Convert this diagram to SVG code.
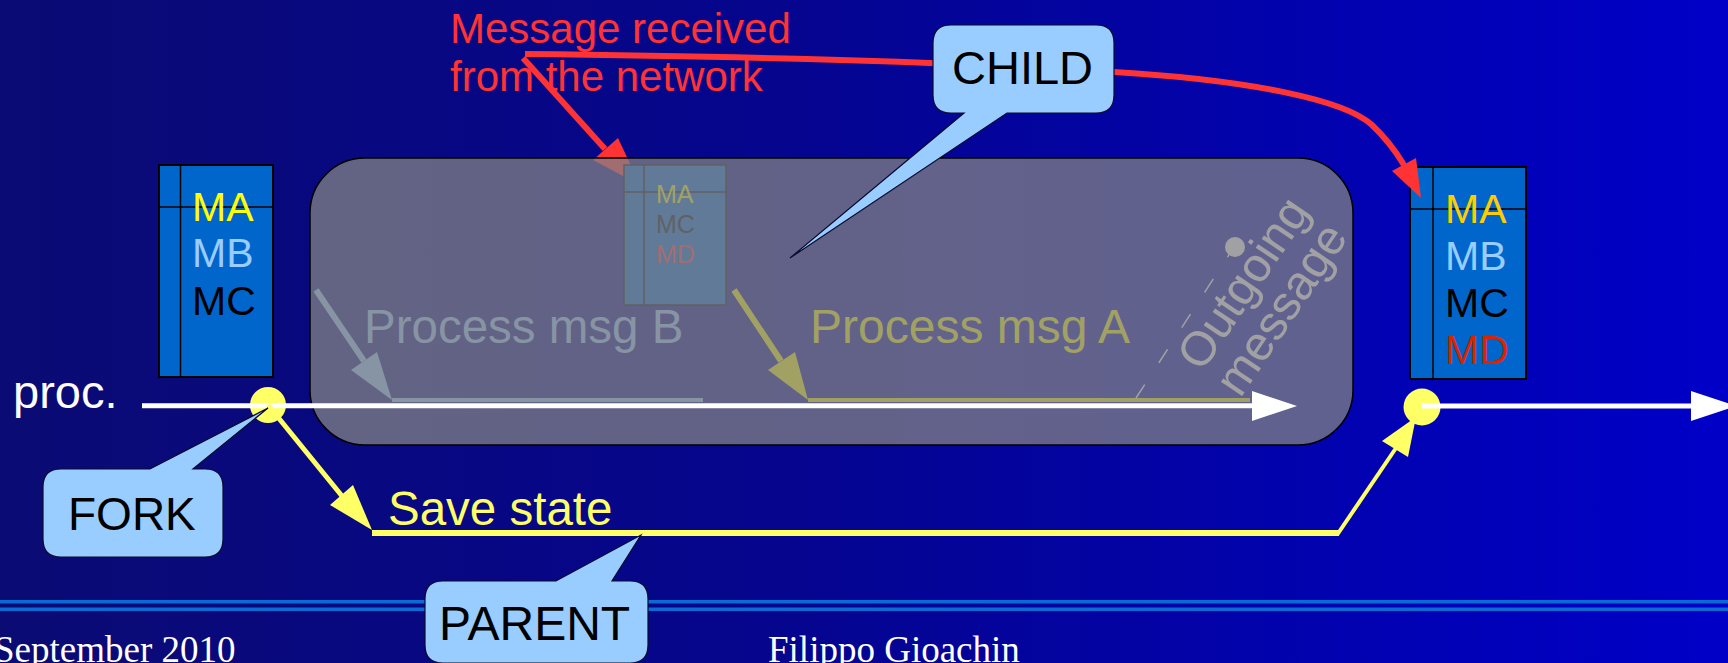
<svg xmlns="http://www.w3.org/2000/svg" width="1728" height="663" viewBox="0 0 1728 663">
<defs>
<linearGradient id="bg" x1="0" y1="0" x2="1" y2="0">
<stop offset="0" stop-color="#0b0b74"/>
<stop offset="0.45" stop-color="#05058e"/>
<stop offset="1" stop-color="#0000c8"/>
</linearGradient>
<style>
.sans{font-family:"Liberation Sans",Arial,sans-serif}
.serif{font-family:"Liberation Serif","Times New Roman",serif}
.box{fill:#0066cc;stroke:#000;stroke-width:2}
.div{stroke:#000;stroke-width:1.5}
.call{fill:#99ccff;stroke:#0a0a30;stroke-width:1.2}
.red{stroke:#ff3333;stroke-width:6;fill:none}
.yel{stroke:#ffff66;fill:none}
.wht{stroke:#ffffff;stroke-width:5}
</style>
</defs>
<rect x="0" y="0" width="1728" height="663" fill="url(#bg)"/>
<g id="footer">
<rect x="0" y="600" width="1728" height="3.5" fill="#0a6ad6"/>
<rect x="0" y="607.5" width="1728" height="3.5" fill="#0a6ad6"/>
<text class="serif" x="-6" y="662" font-size="37" fill="#ffffff">September 2010</text>
<text class="serif" x="768" y="662" font-size="37" fill="#ffffff">Filippo Gioachin</text>
</g>
<g id="connectors-under">
<path class="red" d="M523,58 L605,149"/>
<polygon points="593,160 618,138 640,185" fill="#ff3333"/>
</g>
<g id="state-left">
<rect class="box" x="159" y="165" width="114" height="212"/>
<line class="div" x1="180.5" y1="165" x2="180.5" y2="377"/>
<line class="div" x1="159" y1="207" x2="273" y2="207"/>
<text class="sans" font-size="41" x="192" y="221" fill="#ffff00">MA</text>
<text class="sans" font-size="41" x="192" y="267" fill="#99ccff">MB</text>
<text class="sans" font-size="41" x="192" y="315" fill="#000000">MC</text>
</g>
<g id="state-right">
<rect class="box" x="1410" y="167" width="116" height="212"/>
<line class="div" x1="1433" y1="167" x2="1433" y2="379"/>
<line class="div" x1="1410" y1="209" x2="1526" y2="209"/>
<text class="sans" font-size="41" x="1445" y="223" fill="#ffcc00">MA</text>
<text class="sans" font-size="41" x="1445" y="270" fill="#99ccff">MB</text>
<text class="sans" font-size="41" x="1445" y="317" fill="#000000">MC</text>
<text class="sans" font-size="41" x="1445" y="364" fill="#dd2200">MD</text>
</g>
<g id="state-mini">
<rect x="624" y="165" width="102" height="140" fill="#0066cc" stroke="#000" stroke-width="1.5"/>
<line class="div" x1="644" y1="165" x2="644" y2="305"/>
<line class="div" x1="624" y1="192" x2="726" y2="192"/>
<text class="sans" font-size="25" x="656" y="203" fill="#ffff00">MA</text>
<text class="sans" font-size="25" x="656" y="233" fill="#000000">MC</text>
<text class="sans" font-size="25" x="656" y="263" fill="#ff3333">MD</text>
</g>
<g id="process-b">
<line x1="316" y1="290" x2="364" y2="361" stroke="#99ccff" stroke-width="6"/>
<polygon points="351,370 377,352 392,400" fill="#99ccff"/>
<line x1="392" y1="400" x2="703" y2="400" stroke="#99ccff" stroke-width="4"/>
<text class="sans" font-size="47.5" x="364" y="343" fill="#99ccff">Process msg B</text>
</g>
<g id="process-a">
<line x1="734" y1="290" x2="781" y2="361" stroke="#ffff00" stroke-width="6"/>
<polygon points="768,370 795,352 808,400" fill="#ffff00"/>
<line x1="808" y1="400" x2="1250" y2="400" stroke="#ffff00" stroke-width="4"/>
<text class="sans" font-size="48" x="810" y="343" fill="#ffff00">Process msg A</text>
</g>
<g id="outgoing">
<line x1="1136" y1="398" x2="1234" y2="247" stroke="#ffffff" stroke-width="1.5" stroke-dasharray="16 26"/>
<circle cx="1235" cy="247" r="10" fill="#ffffff"/>
<text class="sans" font-size="48" fill="#ffffff" transform="translate(1202,373) rotate(-56)"><tspan x="0" y="0">Outgoing</tspan><tspan x="0" y="46">message</tspan></text>
</g>
<g id="child-area">
<rect x="310" y="158" width="1043" height="287" rx="55" fill="rgb(129,129,133)" fill-opacity="0.75"/>
<rect x="310" y="158" width="1043" height="287" rx="55" fill="none" stroke="#000" stroke-width="1.5"/>
</g>
<g id="connectors">
<path class="red" d="M525,54 Q900,58 1114,72 C1250,80 1345,100 1372,125 C1390,142 1398,155 1404,165"/>
<polygon points="1392,171 1416,158 1421,198" fill="#ff3333"/>
<circle cx="268" cy="405" r="18" fill="#ffff66"/>
<circle cx="1422" cy="407" r="18.5" fill="#ffff66"/>
<line class="wht" x1="142" y1="405.7" x2="1252" y2="405.7"/>
<polygon points="1252,391 1297,406 1252,421" fill="#ffffff"/>
<line class="wht" x1="1422" y1="406" x2="1691" y2="406"/>
<polygon points="1691,391 1736,406 1691,421" fill="#ffffff"/>
<line class="yel" x1="268" y1="405" x2="342" y2="496" stroke-width="5"/>
<polygon points="330,505 353,485 372,530" fill="#ffff66"/>
<line class="yel" x1="372" y1="533" x2="1339" y2="533" stroke-width="6"/>
<line class="yel" x1="1337" y1="535" x2="1396" y2="448" stroke-width="4"/>
<polygon points="1382,441 1408,457 1416,417" fill="#ffff66"/>
</g>
<g id="proc-label">
<text class="sans" font-size="47" x="13" y="408" fill="#ffffff">proc.</text>
</g>
<g id="save-state">
<text class="sans" font-size="47.5" x="388" y="525" fill="#ffff66">Save state</text>
</g>
<g id="message-label">
<text class="sans" font-size="42" fill="#ff3333"><tspan x="450" y="43">Message received</tspan><tspan x="450" y="91">from the network</tspan></text>
</g>
<g id="fork">
<path class="call" d="M61,469 H150 L268,408 L193,469 H205 Q223,469 223,487 V539 Q223,557 205,557 H61 Q43,557 43,539 V487 Q43,469 61,469 Z"/>
<text class="sans" font-size="46" x="68" y="530" fill="#000">FORK</text>
</g>
<g id="child">
<path class="call" d="M951,25 H1096 Q1114,25 1114,43 V95 Q1114,113 1096,113 H1007 L790,258 L964,113 H951 Q933,113 933,95 V43 Q933,25 951,25 Z"/>
<text class="sans" font-size="47" x="952" y="84" fill="#000">CHILD</text>
</g>
<g id="parent">
<path class="call" d="M443,581 H556 L641,535 L612,581 H630 Q648,581 648,599 V645 Q648,663 630,663 H443 Q425,663 425,645 V599 Q425,581 443,581 Z"/>
<text class="sans" font-size="48" x="439" y="640" fill="#000">PARENT</text>
</g>
</svg>
